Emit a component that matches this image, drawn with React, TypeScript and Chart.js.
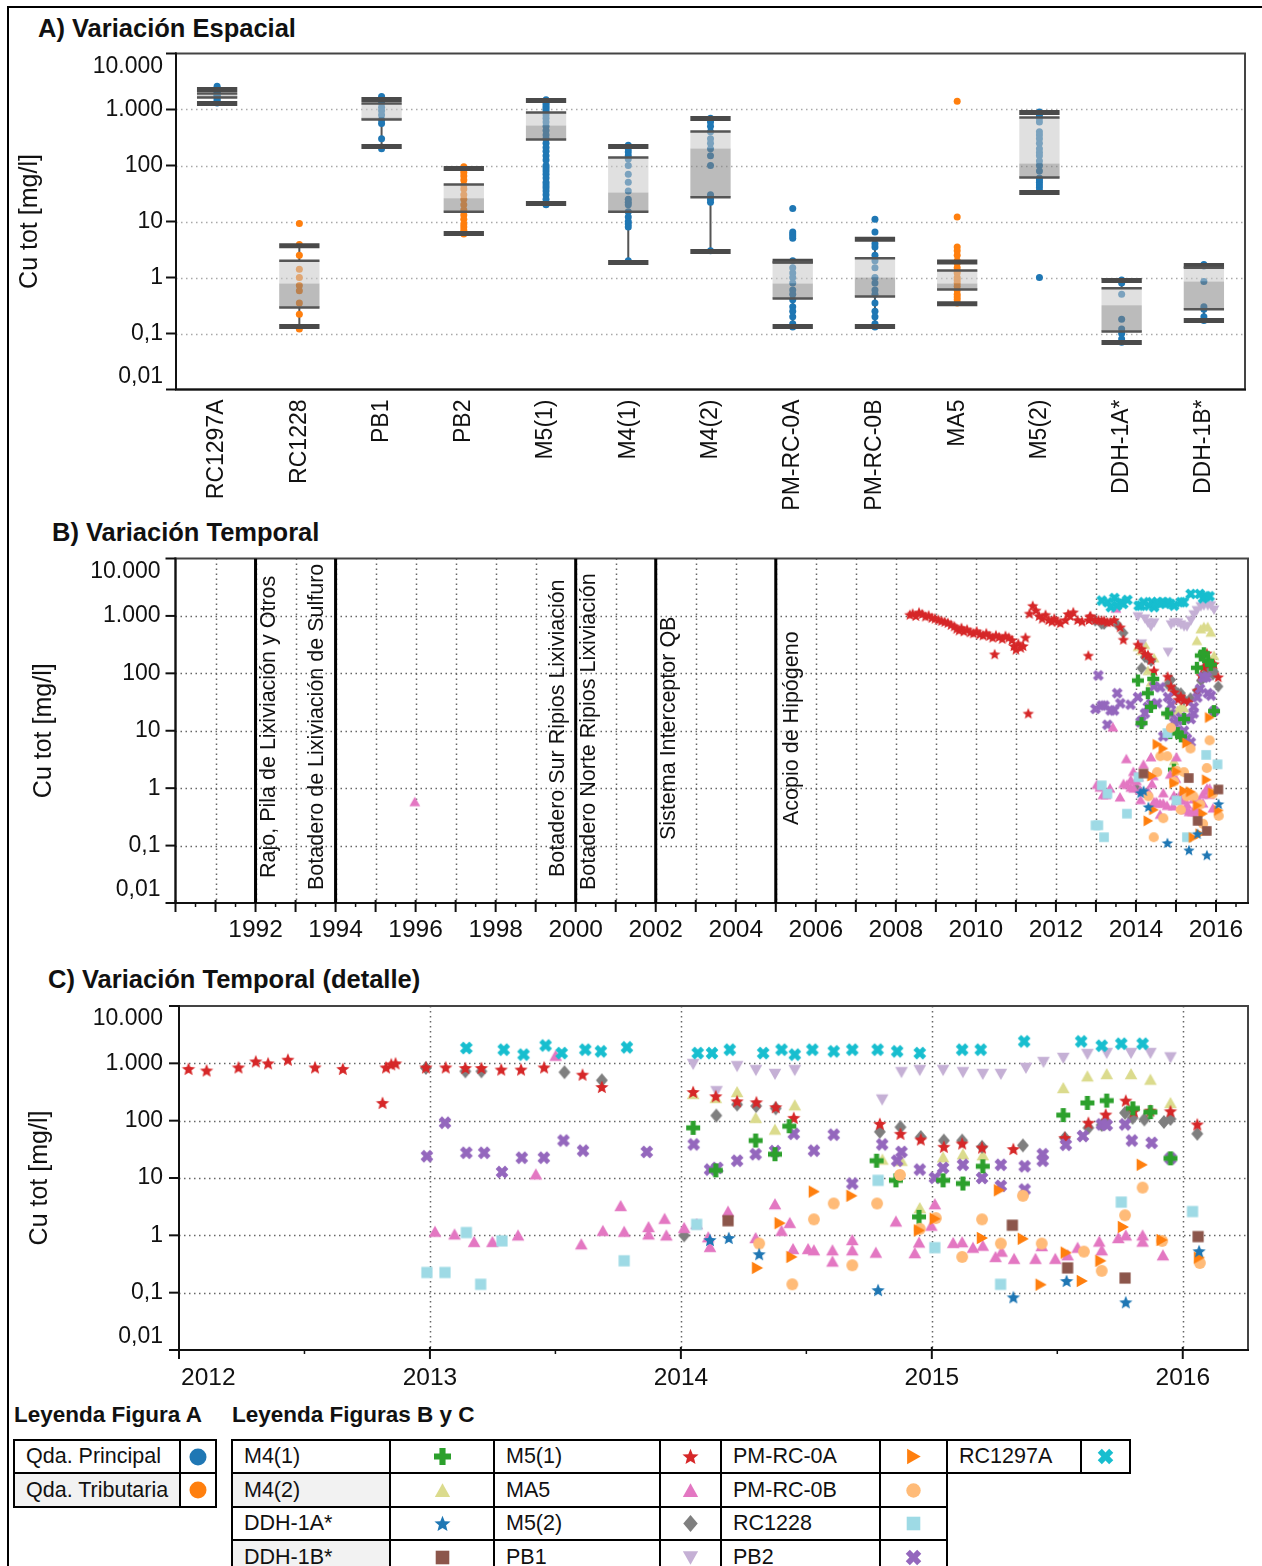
import React, { useEffect, useRef } from 'react';
import { Chart, registerables } from 'chart.js';

Chart.register(...registerables);

const FONT = '"Liberation Sans", Arial, Helvetica, sans-serif';
const PAGE_W = 1262;

// Logarithmic concentration axis shared by the three panels
const yDecades = [0.01, 0.1, 1, 10, 100, 1000, 10000];
const yDecadeLabels = ['0,01', '0,1', '1', '10', '100', '1.000', '10.000'];
const yTitle = 'Cu tot [mg/l]';

// ---------- A) Variación Espacial ----------
const stations = ['RC1297A', 'RC1228', 'PB1', 'PB2', 'M5(1)', 'M4(1)', 'M4(2)', 'PM-RC-0A', 'PM-RC-0B', 'MA5', 'M5(2)', 'DDH-1A*', 'DDH-1B*'];
const stationGroup = ['principal', 'tributaria', 'principal', 'tributaria', 'principal', 'principal', 'principal', 'principal', 'principal', 'tributaria', 'principal', 'principal', 'principal'];
const whiskerLow = [1280, 0.133, 218, 6.1, 21, 1.85, 2.9, 0.133, 0.133, 0.34, 33, 0.069, 0.17];
const boxQ1 = [1640, 0.29, 663, 15, 290, 15, 27, 0.42, 0.46, 0.61, 61, 0.109, 0.27];
const boxMedian = [1780, 0.78, 720, 26, 520, 33, 201, 0.78, 1.0, 0.78, 109, 0.32, 0.85];
const boxQ3 = [1930, 2.0, 1280, 46, 880, 139, 405, 1.9, 2.2, 1.33, 720, 0.64, 1.5];
const whiskerHigh = [2280, 3.7, 1510, 88, 1450, 218, 690, 1.95, 4.8, 1.9, 880, 0.88, 1.64];

const samplesRC1297A = [2600, 2400, 2200, 2100, 2000, 1900, 1800, 1700, 1600, 1500, 1400, 1300];
const samplesRC1228 = [9.2, 3.9, 2.5, 1.4, 1.0, 0.72, 0.58, 0.35, 0.22, 0.12];
const samplesPB1 = [1700, 1500, 1300, 1100, 950, 800, 650, 560, 300, 200];
const samplesPB2 = [95, 85, 75, 65, 55, 45, 38, 30, 25, 20, 16, 13, 11, 9, 8, 7, 6];
const samplesM51 = [1500, 1400, 1300, 1200, 1100, 1000, 900, 800, 700, 600, 500, 420, 350, 300, 250, 210, 180, 150, 125, 100, 90, 80, 70, 60, 50, 45, 40, 35, 30, 25, 20];
const samplesM41 = [230, 200, 175, 150, 130, 100, 70, 50, 35, 25, 22, 20, 15, 12, 10, 9, 8, 2];
const samplesM42 = [700, 650, 600, 500, 400, 300, 250, 200, 150, 100, 30, 28, 25, 22, 3];
const samplesPMRC0A = [17, 6.5, 6, 5.5, 5, 2, 1.5, 1.2, 1, 0.8, 0.6, 0.5, 0.4, 0.3, 0.25, 0.2, 0.15, 0.13];
const samplesPMRC0B = [11, 6.5, 4, 3.5, 2.5, 2, 1.5, 1, 0.8, 0.6, 0.5, 0.35, 0.25, 0.2, 0.15, 0.13];
const samplesMA5 = [1400, 12, 3.5, 3, 2.5, 2, 1.8, 1.5, 1.3, 1.2, 1, 0.9, 0.8, 0.7, 0.6, 0.5, 0.45, 0.4, 0.35];
const samplesM52 = [900, 850, 800, 700, 600, 400, 350, 300, 250, 200, 170, 150, 120, 100, 80, 60, 55, 50, 45, 40, 35, 1];
const samplesDDH1A = [0.9, 0.8, 0.5, 0.18, 0.12, 0.1, 0.08, 0.07];
const samplesDDH1B = [1.7, 1.6, 0.85, 0.3, 0.27, 0.2, 0.17];
const stationSamples = [samplesRC1297A, samplesRC1228, samplesPB1, samplesPB2, samplesM51, samplesM41, samplesM42, samplesPMRC0A, samplesPMRC0B, samplesMA5, samplesM52, samplesDDH1A, samplesDDH1B];

// ---------- B) / C) Variación Temporal: [año decimal, Cu tot mg/l] ----------
const m41: [number, number][] = [[2014.049, 75], [2014.139, 13.6], [2014.298, 45], [2014.375, 26], [2014.432, 80], [2014.78, 20], [2014.857, 9.1], [2014.949, 2.1], [2015.045, 9.1], [2015.124, 8.0], [2015.203, 16], [2015.524, 125], [2015.62, 204], [2015.697, 224], [2015.801, 164], [2015.871, 141], [2015.951, 22]];
const m42: [number, number][] = [[2014.049, 293], [2014.139, 250], [2014.224, 317], [2014.298, 112], [2014.375, 70], [2014.454, 186], [2014.803, 21], [2014.879, 20], [2014.952, 3.0], [2015.045, 23], [2015.124, 26], [2015.203, 25], [2015.524, 372], [2015.62, 594], [2015.697, 650], [2015.794, 650], [2015.871, 520], [2015.951, 204]];
const ddh1a: [number, number][] = [[2014.116, 0.83], [2014.191, 0.9], [2014.312, 0.47], [2014.786, 0.111], [2015.325, 0.083], [2015.537, 0.16], [2015.773, 0.068], [2016.065, 0.53]];
const ddh1b: [number, number][] = [[2014.188, 1.8], [2015.321, 1.5], [2015.541, 0.27], [2015.77, 0.18], [2016.061, 0.95]];
const m51: [number, number][] = [
  [2008.35, 1050], [2008.42, 1100], [2008.5, 1000], [2008.58, 1150], [2008.66, 1080], [2008.74, 980], [2008.82, 1020], [2008.9, 930], [2008.98, 900], [2009.06, 860],
  [2009.14, 820], [2009.22, 790], [2009.3, 760], [2009.38, 700], [2009.46, 660], [2009.52, 600], [2009.58, 560], [2009.64, 620], [2009.7, 540], [2009.78, 580],
  [2009.86, 520], [2009.94, 500], [2010.02, 540], [2010.1, 480], [2010.18, 460], [2010.26, 500], [2010.34, 450], [2010.42, 420], [2010.47, 215], [2010.5, 460],
  [2010.58, 430], [2010.66, 400], [2010.74, 450], [2010.82, 420], [2010.9, 380], [2010.95, 300], [2011.0, 260], [2011.06, 330], [2011.12, 280], [2011.18, 300],
  [2011.24, 420], [2011.31, 20], [2011.34, 1100], [2011.42, 1500], [2011.5, 1250], [2011.58, 1000], [2011.66, 900], [2011.74, 1050], [2011.82, 850], [2011.9, 800],
  [2011.96, 900], [2012.038, 800], [2012.11, 750], [2012.237, 850], [2012.306, 1080], [2012.355, 1000], [2012.434, 1160], [2012.542, 850], [2012.653, 800], [2012.811, 204],
  [2012.825, 850], [2012.846, 960], [2012.863, 1000], [2012.984, 850], [2013.063, 850], [2013.141, 830], [2013.205, 830], [2013.284, 780], [2013.363, 780], [2013.455, 850],
  [2013.608, 635], [2013.685, 387], [2014.049, 317], [2014.139, 267], [2014.224, 218], [2014.301, 210], [2014.378, 172], [2014.45, 112], [2014.793, 88], [2014.875, 59],
  [2014.956, 47], [2015.048, 35], [2015.121, 40], [2015.2, 34], [2015.325, 32], [2015.53, 50], [2015.624, 92], [2015.693, 128], [2015.773, 224], [2015.805, 146],
  [2015.871, 150], [2015.951, 146], [2016.058, 86]];
const ma5: [number, number][] = [
  [1995.98, 0.58], [2013.02, 1.16], [2013.098, 1.04], [2013.176, 0.77], [2013.249, 0.77], [2013.351, 1.0], [2013.422, 11.6], [2013.501, 1360], [2013.603, 0.7], [2013.689, 1.2],
  [2013.76, 3.26], [2013.774, 1.16], [2013.871, 1.4], [2013.871, 1.04], [2013.935, 1.95], [2013.942, 1.0], [2014.013, 1.35], [2014.063, 1.58], [2014.109, 0.93], [2014.116, 0.63],
  [2014.188, 2.6], [2014.298, 0.9], [2014.375, 3.5], [2014.401, 1.2], [2014.434, 1.65], [2014.447, 0.58], [2014.507, 0.58], [2014.53, 0.55], [2014.604, 0.55], [2014.604, 0.35],
  [2014.683, 0.83], [2014.683, 0.55], [2014.777, 0.5], [2014.857, 1.75], [2014.932, 0.49], [2014.949, 0.75], [2014.998, 1.48], [2015.012, 3.5], [2015.085, 0.74], [2015.121, 0.76],
  [2015.164, 0.61], [2015.203, 0.66], [2015.254, 0.42], [2015.278, 0.52], [2015.328, 0.39], [2015.413, 0.39], [2015.438, 0.65], [2015.492, 0.39], [2015.541, 0.45], [2015.581, 0.61],
  [2015.667, 0.78], [2015.677, 0.55], [2015.743, 0.9], [2015.773, 1.0], [2015.84, 1.0], [2015.84, 0.78], [2015.921, 0.45]];
const m52: [number, number][] = [[2012.984, 830], [2013.141, 725], [2013.205, 725], [2013.536, 700], [2013.685, 506], [2014.013, 1.0], [2014.141, 123], [2014.224, 191], [2014.3, 180], [2014.378, 164], [2014.793, 64], [2014.875, 77], [2014.956, 52], [2015.048, 45], [2015.121, 45], [2015.2, 35], [2015.363, 37], [2015.53, 50], [2015.624, 75], [2015.677, 84], [2015.693, 92], [2015.77, 137], [2015.8, 112], [2015.847, 105], [2015.925, 95], [2015.951, 107], [2016.058, 59]];
const pb1: [number, number][] = [[2014.049, 970], [2014.142, 326], [2014.224, 890], [2014.299, 760], [2014.375, 650], [2014.454, 760], [2014.802, 233], [2014.879, 700], [2014.952, 760], [2015.045, 760], [2015.124, 700], [2015.203, 650], [2015.275, 650], [2015.375, 830], [2015.445, 1050], [2015.524, 1240], [2015.62, 1450], [2015.697, 1510], [2015.794, 1510], [2015.871, 1510], [2015.951, 1270]];
const pmrc0a: [number, number][] = [[2014.304, 0.27], [2014.394, 1.63], [2014.441, 0.42], [2014.53, 5.8], [2014.68, 4.9], [2014.949, 1.22], [2015.012, 1.95], [2015.2, 0.9], [2015.268, 6.1], [2015.363, 0.87], [2015.434, 0.138], [2015.534, 0.5], [2015.598, 0.16], [2015.672, 0.36], [2015.762, 1.4], [2015.837, 17], [2015.916, 0.83], [2016.065, 0.41]];
const pmrc0b: [number, number][] = [[2014.312, 0.72], [2014.444, 0.14], [2014.53, 1.9], [2014.609, 3.6], [2014.683, 0.3], [2014.782, 3.6], [2014.873, 11.3], [2014.952, 1.3], [2015.016, 2.0], [2015.121, 0.42], [2015.2, 1.9], [2015.275, 0.72], [2015.363, 4.9], [2015.438, 0.72], [2015.606, 0.52], [2015.677, 0.24], [2015.77, 2.24], [2015.84, 6.8], [2015.918, 0.8], [2016.068, 0.33]];
const rc1228: [number, number][] = [[2012.988, 0.225], [2013.06, 0.225], [2013.145, 1.12], [2013.202, 0.14], [2013.287, 0.8], [2013.774, 0.36], [2014.063, 1.55], [2014.786, 9.1], [2015.012, 0.61], [2015.274, 0.14], [2015.755, 3.8], [2016.039, 2.6]];
const pb2: [number, number][] = [[2012.988, 24], [2013.06, 92], [2013.145, 27.5], [2013.216, 27.5], [2013.287, 12.7], [2013.366, 22.6], [2013.454, 22.6], [2013.532, 45], [2013.61, 30], [2013.864, 28.5], [2014.051, 38.5], [2014.116, 14], [2014.145, 15], [2014.224, 20], [2014.298, 26], [2014.375, 29.5], [2014.45, 59], [2014.53, 30], [2014.609, 57], [2014.683, 8], [2014.802, 38.5], [2014.862, 20], [2014.879, 28.5], [2014.952, 14], [2015.012, 10.1], [2015.045, 15], [2015.124, 17], [2015.2, 10], [2015.275, 17], [2015.275, 7.3], [2015.37, 16], [2015.37, 6.3], [2015.442, 26], [2015.442, 20], [2015.534, 38], [2015.602, 54], [2015.677, 86], [2015.697, 84], [2015.77, 86], [2015.797, 45], [2015.876, 41], [2015.951, 22]];
const rc1297a: [number, number][] = [[2013.145, 1850], [2013.294, 1730], [2013.373, 1420], [2013.461, 2050], [2013.525, 1510], [2013.619, 1730], [2013.681, 1620], [2013.785, 1900], [2014.067, 1510], [2014.124, 1510], [2014.195, 1730], [2014.328, 1510], [2014.401, 1730], [2014.454, 1420], [2014.524, 1730], [2014.609, 1620], [2014.683, 1730], [2014.784, 1730], [2014.862, 1620], [2014.952, 1510], [2015.121, 1730], [2015.195, 1730], [2015.368, 2410], [2015.595, 2410], [2015.677, 2030], [2015.755, 2200], [2015.84, 2200]];

type Shape = 'plus' | 'xmark' | 'star' | 'triUp' | 'triDown' | 'triRight' | 'square' | 'diamond' | 'circle';

const seriesStyles: { name: string; color: string; shape: Shape; data: [number, number][] }[] = [
  { name: 'M4(1)', color: '#2ca02c', shape: 'plus', data: m41 },
  { name: 'M4(2)', color: '#dbdb8d', shape: 'triUp', data: m42 },
  { name: 'DDH-1A*', color: '#1f77b4', shape: 'star', data: ddh1a },
  { name: 'DDH-1B*', color: '#8c564b', shape: 'square', data: ddh1b },
  { name: 'M5(1)', color: '#d62728', shape: 'star', data: m51 },
  { name: 'MA5', color: '#e377c2', shape: 'triUp', data: ma5 },
  { name: 'M5(2)', color: '#7f7f7f', shape: 'diamond', data: m52 },
  { name: 'PB1', color: '#c5b0d5', shape: 'triDown', data: pb1 },
  { name: 'PM-RC-0A', color: '#ff7f0e', shape: 'triRight', data: pmrc0a },
  { name: 'PM-RC-0B', color: '#ffbb78', shape: 'circle', data: pmrc0b },
  { name: 'RC1228', color: '#9edae5', shape: 'square', data: rc1228 },
  { name: 'PB2', color: '#9467bd', shape: 'xmark', data: pb2 },
  { name: 'RC1297A', color: '#17becf', shape: 'xmark', data: rc1297a },
];
// paint order, first drawn at the bottom
const drawOrder = ['M4(2)', 'PB1', 'M5(2)', 'M5(1)', 'PB2', 'M4(1)', 'MA5', 'RC1228', 'PM-RC-0B', 'PM-RC-0A', 'DDH-1B*', 'DDH-1A*', 'RC1297A'];

// Operational milestones drawn as vertical lines in panel B
const eventYears = [1992, 1994, 2000, 2002, 2005];
const eventLabels = ['Rajo, Pila de Lixiviación y Otros', 'Botadero de Lixiviación de Sulfuro', 'Botadero Sur Ripios Lixiviación', 'Botadero Norte Ripios Lixiviación', 'Sistema Interceptor QB', 'Acopio de Hipógeno'];
const eventLabelYears = [1992, 1994, 2000, 2000, 2002, 2005];

const yearTicksB = [1992, 1994, 1996, 1998, 2000, 2002, 2004, 2006, 2008, 2010, 2012, 2014, 2016];
const yearTicksC = [2012, 2013, 2014, 2015, 2016];

// Legend tables
const legendAItems = ['Qda. Principal', 'Qda. Tributaria'];
const legendAColors = ['#1f77b4', '#ff7f0e'];
const legendBCRows = [
  ['M4(1)', 'M5(1)', 'PM-RC-0A', 'RC1297A'],
  ['M4(2)', 'MA5', 'PM-RC-0B'],
  ['DDH-1A*', 'M5(2)', 'RC1228'],
  ['DDH-1B*', 'PB1', 'PB2'],
];

// ---------- marker geometry ----------
function shapePoints(shape: Shape): [number, number][] | null {
  const t = 0.36;
  const plus: [number, number][] = [[-t, -1], [t, -1], [t, -t], [1, -t], [1, t], [t, t], [t, 1], [-t, 1], [-t, t], [-1, t], [-1, -t], [-t, -t]];
  switch (shape) {
    case 'star': {
      const pts: [number, number][] = [];
      for (let i = 0; i < 10; i++) {
        const r = i % 2 === 0 ? 1 : 0.44;
        const a = -Math.PI / 2 + (i * Math.PI) / 5;
        pts.push([r * Math.cos(a), r * Math.sin(a) + 0.08]);
      }
      return pts;
    }
    case 'plus':
      return plus;
    case 'xmark': {
      const c = Math.SQRT1_2 * 0.95;
      return plus.map(([x, y]) => [(x - y) * c, (x + y) * c] as [number, number]);
    }
    case 'triUp':
      return [[0, -0.85], [0.9, 0.75], [-0.9, 0.75]];
    case 'triDown':
      return [[0, 0.85], [0.9, -0.75], [-0.9, -0.75]];
    case 'triRight':
      return [[0.85, 0], [-0.75, 0.9], [-0.75, -0.9]];
    case 'square':
      return [[-0.8, -0.8], [0.8, -0.8], [0.8, 0.8], [-0.8, 0.8]];
    case 'diamond':
      return [[0, -1], [0.85, 0], [0, 1], [-0.85, 0]];
    default:
      return null;
  }
}

function makeMarker(shape: Shape, color: string, r: number): HTMLCanvasElement {
  const size = Math.ceil(2 * r + 2);
  const c = document.createElement('canvas');
  c.width = size;
  c.height = size;
  const g = c.getContext('2d')!;
  g.translate(size / 2, size / 2);
  g.fillStyle = color;
  g.beginPath();
  const pts = shapePoints(shape);
  if (!pts) g.arc(0, 0, r * 0.85, 0, Math.PI * 2);
  else pts.forEach(([x, y], i) => (i ? g.lineTo(x * r, y * r) : g.moveTo(x * r, y * r)));
  g.closePath();
  g.fill();
  return c;
}

function MarkerIcon({ shape, color, r }: { shape: Shape; color: string; r: number }) {
  const s = 2 * r + 2;
  const pts = shapePoints(shape);
  return (
    <svg width={s} height={s} viewBox={`${-s / 2} ${-s / 2} ${s} ${s}`} style={{ display: 'block' }}>
      {pts ? (
        <polygon points={pts.map(([x, y]) => `${x * r},${y * r}`).join(' ')} fill={color} />
      ) : (
        <circle cx={0} cy={0} r={r * 0.85} fill={color} />
      )}
    </svg>
  );
}

// ---------- axis / frame drawing ----------
interface FrameSpec {
  key: string;
  yTitleX: number;
  labelGap: number;
  gridColor: string;
  xGrid: number[];
  xMajor: number[];
  xMinor: number[];
  xLabelValues: number[];
  xLabelDy: number;
  firstLabelLeft?: boolean;
  categoryLabels?: string[];
}

function framePlugin(spec: FrameSpec) {
  return {
    id: 'frame' + spec.key,
    beforeDatasetsDraw(chart: any) {
      const { ctx, chartArea: a } = chart;
      const xs = chart.scales.x;
      const ys = chart.scales.y;
      ctx.save();
      ctx.strokeStyle = spec.gridColor;
      ctx.lineWidth = 1.5;
      ctx.setLineDash([1.5, 3.5]);
      ctx.beginPath();
      yDecades.slice(1, -1).forEach((v) => {
        const py = Math.round(ys.getPixelForValue(v)) + 0.5;
        ctx.moveTo(a.left, py);
        ctx.lineTo(a.right, py);
      });
      spec.xGrid.forEach((v) => {
        const px = Math.round(xs.getPixelForValue(v)) + 0.5;
        ctx.moveTo(px, a.top);
        ctx.lineTo(px, a.bottom);
      });
      ctx.stroke();
      ctx.restore();
    },
    afterDatasetsDraw(chart: any) {
      const { ctx, chartArea: a } = chart;
      const xs = chart.scales.x;
      const ys = chart.scales.y;
      ctx.save();
      ctx.setLineDash([]);
      ctx.lineWidth = 2;
      ctx.strokeStyle = '#444';
      ctx.strokeRect(a.left, a.top, a.right - a.left, a.bottom - a.top);
      ctx.strokeStyle = '#111';
      ctx.beginPath();
      ctx.moveTo(a.left, a.top - 1);
      ctx.lineTo(a.left, a.bottom);
      ctx.lineTo(a.right + 1, a.bottom);
      ctx.stroke();

      // y ticks and labels
      ctx.fillStyle = '#111';
      ctx.font = `23px ${FONT}`;
      ctx.textAlign = 'right';
      ctx.textBaseline = 'middle';
      yDecades.forEach((v, i) => {
        const py = ys.getPixelForValue(v);
        ctx.beginPath();
        ctx.moveTo(a.left - 10, py);
        ctx.lineTo(a.left, py);
        ctx.stroke();
        const shift = i === 0 ? -13 : i === yDecades.length - 1 ? 13 : 0;
        ctx.fillText(yDecadeLabels[i], a.left - spec.labelGap, py + shift);
      });

      // x ticks
      spec.xMajor.forEach((v) => {
        const px = xs.getPixelForValue(v);
        ctx.beginPath();
        ctx.moveTo(px, a.bottom - 3);
        ctx.lineTo(px, a.bottom + 9);
        ctx.stroke();
      });
      ctx.lineWidth = 1.5;
      spec.xMinor.forEach((v) => {
        const px = xs.getPixelForValue(v);
        ctx.beginPath();
        ctx.moveTo(px, a.bottom);
        ctx.lineTo(px, a.bottom + 4);
        ctx.stroke();
      });

      // x labels
      ctx.font = `24.5px ${FONT}`;
      ctx.textBaseline = 'middle';
      spec.xLabelValues.forEach((v, i) => {
        const px = xs.getPixelForValue(v);
        if (i === 0 && spec.firstLabelLeft) {
          ctx.textAlign = 'left';
          ctx.fillText(String(v), px + 2, a.bottom + spec.xLabelDy);
        } else {
          ctx.textAlign = 'center';
          ctx.fillText(String(v), px, a.bottom + spec.xLabelDy);
        }
      });

      if (spec.categoryLabels) {
        ctx.font = `23px ${FONT}`;
        ctx.textAlign = 'right';
        ctx.textBaseline = 'middle';
        spec.categoryLabels.forEach((lab, i) => {
          const px = xs.getPixelForValue(i);
          ctx.save();
          ctx.translate(px, a.bottom + 10);
          ctx.rotate(-Math.PI / 2);
          ctx.fillText(lab, 0, 0);
          ctx.restore();
        });
      }

      // y title
      ctx.font = `25px ${FONT}`;
      ctx.textAlign = 'center';
      ctx.textBaseline = 'middle';
      ctx.translate(spec.yTitleX, (a.top + a.bottom) / 2);
      ctx.rotate(-Math.PI / 2);
      ctx.fillText(yTitle, 0, 0);
      ctx.restore();
    },
  };
}

// Box-and-whisker decorations for panel A
const boxPlugin = {
  id: 'boxes',
  beforeDatasetsDraw(chart: any) {
    const { ctx } = chart;
    const xs = chart.scales.x;
    const ys = chart.scales.y;
    ctx.save();
    ctx.strokeStyle = '#555';
    ctx.lineWidth = 2;
    stations.forEach((_, i) => {
      const px = xs.getPixelForValue(i);
      ctx.beginPath();
      ctx.moveTo(px, ys.getPixelForValue(whiskerLow[i]));
      ctx.lineTo(px, ys.getPixelForValue(boxQ1[i]));
      ctx.moveTo(px, ys.getPixelForValue(boxQ3[i]));
      ctx.lineTo(px, ys.getPixelForValue(whiskerHigh[i]));
      ctx.stroke();
    });
    ctx.restore();
  },
  afterDatasetsDraw(chart: any) {
    const { ctx } = chart;
    const xs = chart.scales.x;
    const ys = chart.scales.y;
    const hw = ((xs.getPixelForValue(1) - xs.getPixelForValue(0)) * 0.49) / 2;
    ctx.save();
    stations.forEach((_, i) => {
      const px = xs.getPixelForValue(i);
      ctx.strokeStyle = '#4a4a4a';
      ctx.lineWidth = 5;
      [whiskerLow[i], whiskerHigh[i]].forEach((v) => {
        const py = ys.getPixelForValue(v);
        ctx.beginPath();
        ctx.moveTo(px - hw, py);
        ctx.lineTo(px + hw, py);
        ctx.stroke();
      });
      ctx.strokeStyle = '#555';
      ctx.lineWidth = 2.5;
      [boxQ1[i], boxQ3[i]].forEach((v) => {
        const py = ys.getPixelForValue(v);
        ctx.beginPath();
        ctx.moveTo(px - hw, py);
        ctx.lineTo(px + hw, py);
        ctx.stroke();
      });
    });
    ctx.restore();
  },
};

// Milestone lines and rotated captions for panel B (page coordinates of the captions)
function eventsPlugin(canvasTop: number) {
  const placement = [[14, 878], [-18, 890], [-18, 877], [13, 890], [13, 840], [16, 825]];
  return {
    id: 'events',
    afterDatasetsDraw(chart: any) {
      const { ctx, chartArea: a } = chart;
      const xs = chart.scales.x;
      ctx.save();
      ctx.beginPath();
      ctx.rect(a.left, a.top, a.right - a.left, a.bottom - a.top);
      ctx.clip();
      ctx.strokeStyle = '#000';
      ctx.lineWidth = 3;
      eventYears.forEach((yr) => {
        const px = xs.getPixelForValue(yr);
        ctx.beginPath();
        ctx.moveTo(px, a.top);
        ctx.lineTo(px, a.bottom);
        ctx.stroke();
      });
      ctx.fillStyle = '#111';
      ctx.font = `21.5px ${FONT}`;
      ctx.textAlign = 'left';
      ctx.textBaseline = 'middle';
      eventLabels.forEach((lab, i) => {
        const px = xs.getPixelForValue(eventLabelYears[i]) + placement[i][0];
        ctx.save();
        ctx.translate(px, placement[i][1] - canvasTop);
        ctx.rotate(-Math.PI / 2);
        ctx.fillText(lab, 0, 0);
        ctx.restore();
      });
      ctx.restore();
    },
  };
}

function baseOptions(pad: { left: number; right: number; top: number; bottom: number }, x: any) {
  return {
    responsive: false,
    animation: false,
    events: [],
    layout: { padding: pad, autoPadding: false },
    plugins: { legend: { display: false }, tooltip: { enabled: false } },
    scales: {
      x: { ...x, grid: { display: false }, ticks: { display: false }, border: { display: false }, afterFit: (s: any) => { s.height = 0; } },
      y: { type: 'logarithmic', min: 0.01, max: 10000, grid: { display: false }, ticks: { display: false }, border: { display: false }, afterFit: (s: any) => { s.width = 0; } },
    },
  };
}

// ---------- canvas placement (page pixels) ----------
const A_TOP = 40, A_H = 480;
const B_TOP = 545, B_H = 415;
const C_TOP = 995, C_H = 405;

function buildSpatial(canvas: HTMLCanvasElement) {
  const pts = (group: string) =>
    stations.flatMap((s, i) => (stationGroup[i] === group ? stationSamples[i].map((v) => ({ x: s, y: v })) : []));
  const opts: any = baseOptions({ left: 176, right: PAGE_W - 1245, top: 53.5 - A_TOP, bottom: A_TOP + A_H - 389.5 }, { type: 'category', offset: true });
  return new Chart(canvas, {
    type: 'bar',
    data: {
      labels: stations,
      datasets: [
        { type: 'bar', data: stations.map((_, i) => [boxQ1[i], boxMedian[i]]), backgroundColor: 'rgba(131,131,131,0.55)', borderWidth: 0, grouped: false, barPercentage: 0.49, categoryPercentage: 1, order: 0 },
        { type: 'bar', data: stations.map((_, i) => [boxMedian[i], boxQ3[i]]), backgroundColor: 'rgba(199,199,199,0.55)', borderWidth: 0, grouped: false, barPercentage: 0.49, categoryPercentage: 1, order: 0 },
        { type: 'scatter', data: pts('principal'), pointRadius: 3.5, backgroundColor: '#1f77b4', borderWidth: 0, order: 2 },
        { type: 'scatter', data: pts('tributaria'), pointRadius: 3.5, backgroundColor: '#ff7f0e', borderWidth: 0, order: 2 },
      ],
    } as any,
    options: opts,
    plugins: [
      boxPlugin,
      framePlugin({ key: 'A', yTitleX: 30, labelGap: 13, gridColor: '#a8a8a8', xGrid: [], xMajor: [], xMinor: [], xLabelValues: [], xLabelDy: 0, categoryLabels: stations }),
    ],
  } as any);
}

function timeDatasets(r: number, fromYear: number) {
  return seriesStyles.map((s) => ({
    type: 'scatter',
    label: s.name,
    data: s.data.filter(([t]) => t >= fromYear).map(([t, v]) => ({ x: t, y: v })),
    pointStyle: makeMarker(s.shape, s.color, r),
    pointRadius: r,
    backgroundColor: s.color,
    borderWidth: 0,
    order: drawOrder.length - drawOrder.indexOf(s.name),
  }));
}

function buildTemporal(canvas: HTMLCanvasElement) {
  const major: number[] = [];
  const minor: number[] = [];
  for (let y = 1990; y <= 2016; y++) {
    major.push(y);
    minor.push(y + 0.5);
  }
  const opts: any = baseOptions({ left: 175.5, right: PAGE_W - 1248, top: 558.5 - B_TOP, bottom: B_TOP + B_H - 903 }, { type: 'linear', min: 1990, max: 2016.8, bounds: 'data' });
  return new Chart(canvas, {
    type: 'scatter',
    data: { datasets: timeDatasets(6, 1990) } as any,
    options: opts,
    plugins: [
      framePlugin({ key: 'B', yTitleX: 44, labelGap: 15, gridColor: '#666', xGrid: major.slice(1), xMajor: major, xMinor: minor.filter((m) => m < 2016.8), xLabelValues: yearTicksB, xLabelDy: 27 }),
      eventsPlugin(B_TOP),
    ],
  } as any);
}

function buildDetail(canvas: HTMLCanvasElement) {
  const opts: any = baseOptions({ left: 179, right: PAGE_W - 1248, top: 1006 - C_TOP, bottom: C_TOP + C_H - 1350 }, { type: 'linear', min: 2012, max: 2016.26, bounds: 'data' });
  return new Chart(canvas, {
    type: 'scatter',
    data: { datasets: timeDatasets(7, 2011.9) } as any,
    options: opts,
    plugins: [
      framePlugin({ key: 'C', yTitleX: 40, labelGap: 16, gridColor: '#666', xGrid: [2013, 2014, 2015, 2016], xMajor: yearTicksC, xMinor: [2012.5, 2013.5, 2014.5, 2015.5], xLabelValues: yearTicksC, xLabelDy: 28, firstLabelLeft: true }),
    ],
  } as any);
}

function ChartCanvas({ top, height, build }: { top: number; height: number; build: (c: HTMLCanvasElement) => Chart }) {
  const ref = useRef<HTMLCanvasElement>(null);
  useEffect(() => {
    const chart = build(ref.current!);
    return () => chart.destroy();
  }, []);
  return <canvas ref={ref} width={PAGE_W} height={height} style={{ position: 'absolute', left: 0, top, width: PAGE_W, height }} />;
}

// Text placed by its baseline
function Label({ x, baseline, size, bold, children }: { x: number; baseline: number; size: number; bold?: boolean; children: React.ReactNode }) {
  return (
    <div style={{ position: 'absolute', left: x, top: baseline - 0.8465 * size, fontFamily: FONT, fontSize: size, lineHeight: `${size}px`, fontWeight: bold ? 'bold' : 'normal', color: '#111', whiteSpace: 'nowrap' }}>
      {children}
    </div>
  );
}

function Cell({ x0, x1, y0, y1, bg, center, children }: { x0: number; x1: number; y0: number; y1: number; bg?: string; center?: boolean; children?: React.ReactNode }) {
  return (
    <div
      style={{
        position: 'absolute', left: x0 - 1, top: y0 - 1, width: x1 - x0 + 2, height: y1 - y0 + 2, boxSizing: 'border-box',
        border: '2px solid #000', background: bg || '#fff', display: 'flex', alignItems: 'center',
        justifyContent: center ? 'center' : 'flex-start', paddingLeft: center ? 0 : 11,
        fontFamily: FONT, fontSize: 21.5, color: '#111', whiteSpace: 'nowrap',
      }}
    >
      {children}
    </div>
  );
}

const legendRowY = [1440, 1473, 1507, 1540, 1574];
const legendAColX = [14, 180, 216];
const legendBCColX = [232, 390, 494, 660, 721, 880, 947, 1081, 1130];

function Legends() {
  const cells: React.ReactNode[] = [];
  legendAItems.forEach((name, r) => {
    cells.push(<Cell key={`a${r}`} x0={legendAColX[0]} x1={legendAColX[1]} y0={legendRowY[r]} y1={legendRowY[r + 1]} bg={r % 2 ? '#f2f2f2' : '#fff'}>{name}</Cell>);
    cells.push(
      <Cell key={`am${r}`} x0={legendAColX[1]} x1={legendAColX[2]} y0={legendRowY[r]} y1={legendRowY[r + 1]} center>
        <MarkerIcon shape="circle" color={legendAColors[r]} r={10} />
      </Cell>
    );
  });
  legendBCRows.forEach((row, r) => {
    row.forEach((name, c) => {
      const s = seriesStyles.find((q) => q.name === name)!;
      cells.push(
        <Cell key={`b${r}${c}`} x0={legendBCColX[2 * c]} x1={legendBCColX[2 * c + 1]} y0={legendRowY[r]} y1={legendRowY[r + 1]} bg={c === 0 && r % 2 ? '#f2f2f2' : '#fff'}>
          {name}
        </Cell>
      );
      cells.push(
        <Cell key={`bm${r}${c}`} x0={legendBCColX[2 * c + 1]} x1={legendBCColX[2 * c + 2]} y0={legendRowY[r]} y1={legendRowY[r + 1]} center>
          <MarkerIcon shape={s.shape} color={s.color} r={8.5} />
        </Cell>
      );
    });
  });
  return <>{cells}</>;
}

export default function App() {
  return (
    <div style={{ position: 'absolute', left: 0, top: 0, width: PAGE_W, height: 1566, overflow: 'hidden', background: '#fff' }}>
      <div style={{ position: 'absolute', left: 7, top: 6, width: PAGE_W, height: 2, background: '#000' }} />
      <div style={{ position: 'absolute', left: 7, top: 6, width: 2, height: 1600, background: '#000' }} />
      <Label x={38} baseline={37.5} size={25.5} bold>A) Variación Espacial</Label>
      <Label x={52} baseline={542} size={25.5} bold>B) Variación Temporal</Label>
      <Label x={48} baseline={989} size={25.5} bold>C) Variación Temporal (detalle)</Label>
      <ChartCanvas top={A_TOP} height={A_H} build={buildSpatial} />
      <ChartCanvas top={B_TOP} height={B_H} build={buildTemporal} />
      <ChartCanvas top={C_TOP} height={C_H} build={buildDetail} />
      <Label x={14} baseline={1423} size={22.5} bold>Leyenda Figura A</Label>
      <Label x={232} baseline={1423} size={22.5} bold>Leyenda Figuras B y C</Label>
      <Legends />
    </div>
  );
}
